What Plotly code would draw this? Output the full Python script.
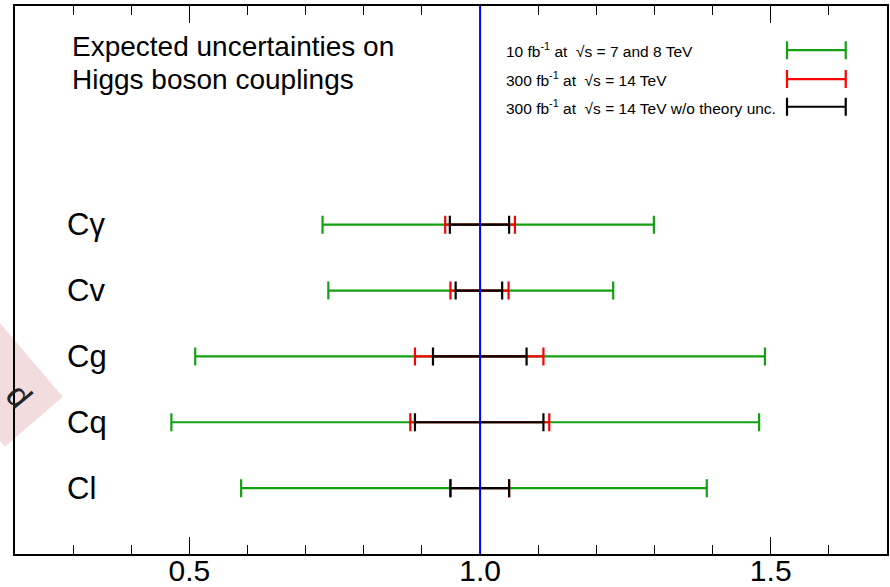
import plotly.graph_objects as go

# ---- data ----
couplings = ["Cγ", "Cv", "Cg", "Cq", "Cl"]
row_pos = [5, 4, 3, 2, 1]
central = [1.0, 1.0, 1.0, 1.0, 1.0]

green_lo = [0.729, 0.739, 0.510, 0.469, 0.589]
green_hi = [1.299, 1.229, 1.490, 1.480, 1.390]
red_lo = [0.940, 0.949, 0.888, 0.880, 0.949]
red_hi = [1.060, 1.049, 1.109, 1.119, 1.050]
black_lo = [0.948, 0.958, 0.919, 0.888, 0.949]
black_hi = [1.050, 1.038, 1.080, 1.109, 1.050]

legend_labels = [
    "10 fb<sup>-1</sup> at  √s = 7 and 8 TeV",
    "300 fb<sup>-1</sup> at  √s = 14 TeV",
    "300 fb<sup>-1</sup> at  √s = 14 TeV w/o theory unc.",
]
series_colors = ["#13a013", "#ff0000", "#000000"]
legend_rows = [7.65, 7.21, 6.79]
legend_x = [1.528, 1.629]

x_ticks = [0.5, 1.0, 1.5]
title_lines = ["Expected uncertainties on", "Higgs boson couplings"]

FONT = "Liberation Sans, Arial, sans-serif"

fig = go.Figure()

series = [(green_lo, green_hi), (red_lo, red_hi), (black_lo, black_hi)]
for (lo, hi), col in zip(series, series_colors):
    fig.add_trace(go.Scatter(
        x=central, y=row_pos, mode="markers",
        marker=dict(size=1, color="rgba(0,0,0,0)"),
        error_x=dict(type="data", symmetric=False,
                     array=[h - c for h, c in zip(hi, central)],
                     arrayminus=[c - l for l, c in zip(lo, central)],
                     color=col, thickness=2.2, width=9),
        showlegend=False, hoverinfo="skip"))

# legend samples (drawn on the right like the original)
lc = (legend_x[0] + legend_x[1]) / 2
lh = (legend_x[1] - legend_x[0]) / 2
for yv, col, lab in zip(legend_rows, series_colors, legend_labels):
    fig.add_trace(go.Scatter(
        x=[lc], y=[yv], mode="markers",
        marker=dict(size=1, color="rgba(0,0,0,0)"),
        error_x=dict(type="data", array=[lh], color=col, thickness=2.2, width=9),
        showlegend=False, hoverinfo="skip"))
    fig.add_annotation(x=0.561, xref="paper", y=yv, yref="y", text=lab,
                       showarrow=False, xanchor="left", yanchor="middle",
                       font=dict(family=FONT, size=15.5, color="#000"))

# y category labels inside the frame
for name, yv in zip(couplings, row_pos):
    fig.add_annotation(x=0.2, xref="x", y=yv, yref="y", text=name,
                       showarrow=False, xanchor="left", yanchor="middle",
                       xshift=50, font=dict(family=FONT, size=31, color="#000"))

# title text
fig.add_annotation(x=0.063, xref="paper", y=0.927, yref="paper", text=title_lines[0],
                   showarrow=False, xanchor="left", yanchor="middle",
                   font=dict(family=FONT, size=28, color="#000"))
fig.add_annotation(x=0.063, xref="paper", y=0.865, yref="paper", text=title_lines[1],
                   showarrow=False, xanchor="left", yanchor="middle",
                   font=dict(family=FONT, size=28, color="#000"))

# reference line at 1.0
fig.add_shape(type="line", x0=1.0, x1=1.0, xref="x", y0=0, y1=1, yref="paper",
              line=dict(color="#0000ff", width=2), layer="above")

# pink watermark fragment at left edge (pixel -> paper conversion)
def px(xp):
    return (xp - 15) / 872.0

def py(yp):
    return (554 - yp) / 548.0

pts = [(62.7, 396.7), (5.0, 446.7), (-89.0, 336.2), (-31.3, 286.2)]
path = "M " + " L ".join(f"{px(a):.4f},{py(b):.4f}" for a, b in pts) + " Z"
fig.add_shape(type="path", path=path, xref="paper", yref="paper",
              fillcolor="#f2dcdd", line=dict(width=0), layer="below")
fig.add_annotation(x=px(-4), xref="paper", y=py(418), yref="paper", text="d",
                   showarrow=False, textangle=50,
                   font=dict(family=FONT, size=34, color="#222"))

fig.update_xaxes(range=[0.2, 1.7], tickvals=x_ticks, tickformat=".1f",
                 ticks="inside", ticklen=17, tickwidth=1, tickcolor="#000",
                 minor=dict(dtick=0.1, ticks="inside", ticklen=9, tickwidth=1,
                            tickcolor="#000", showgrid=False),
                 showline=True, linecolor="#000", linewidth=2, mirror="ticks",
                 showgrid=False, zeroline=False, automargin=False,
                 ticklabelstandoff=-11,
                 tickfont=dict(family=FONT, size=30, color="#000"))
fig.update_yaxes(range=[0.0, 8.32], showticklabels=False, ticks="",
                 showline=True, linecolor="#000", linewidth=2, mirror=True,
                 showgrid=False, zeroline=False, automargin=False)

fig.update_layout(width=890, height=587,
                  margin=dict(l=15, r=3, t=6, b=33, autoexpand=False),
                  paper_bgcolor="white", plot_bgcolor="rgba(0,0,0,0)",
                  showlegend=False)

fig.write_html("out.html")
